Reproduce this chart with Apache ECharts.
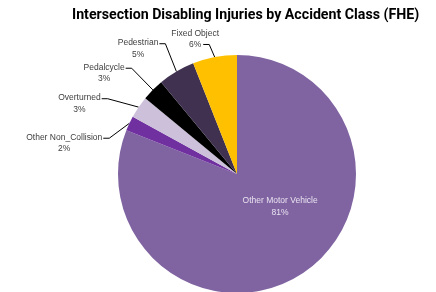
<!DOCTYPE html>
<html>
<head>
<meta charset="utf-8">
<script src="https://cdn.jsdelivr.net/npm/echarts@6/dist/echarts.min.js"></script>
<style>
  html, body { margin: 0; padding: 0; background: #fff; }
  #main { width: 436px; height: 292px; }
</style>
</head>
<body>
<div id="main"></div>
<script>
// accident classes, clockwise from 12 o'clock
var categories = ["Other Motor Vehicle", "Other Non_Collision", "Overturned", "Pedalcycle", "Pedestrian", "Fixed Object"]
var shares = [81, 2, 3, 3, 5, 6] // %
var colors = ["#8064A2", "#7030A0", "#CCC0DA", "#000000", "#403151", "#FFC000"]
// small label nudges so the outside labels sit where the excel chart put them
var labelDx = [0, -2, -13, -4, 6, 18]
var labelDy = [0, 10, -7, -15, -17, -4]
// which text line the leader line hooks onto (0 = name, 1 = percent)
var hookLine = [0, 0, 0, 0, 0, 1]

var chart = echarts.init(document.getElementById("main"))

var txt = {
  fontFamily: "Liberation Sans",
  fontSize: 8.5,
  lineHeight: 11.5,
  color: "#404040",
  align: "center"
}

var pieData = categories.map(function (name, i) {
  var item = { name: name, value: shares[i], itemStyle: { color: colors[i] } }
  if (i === 0) {
    // big slice gets its label inside
    item.label = {
      position: "inside",
      offset: [8, -19],
      rich: { n: Object.assign({}, txt, { color: "#E8E2F0" }) }
    }
    item.labelLine = { show: false }
  }
  return item
})

var option = {
  backgroundColor: "#fff",
  animation: false,
  title: {
    text: "Intersection Disabling Injuries by Accident Class (FHE)",
    left: 67,
    top: 3,
    textStyle: {
      fontFamily: "Roboto",
      fontWeight: "bold",
      fontSize: 14.2,
      color: "#000"
    }
  },
  series: [
    {
      type: "pie",
      center: [237, 174],
      radius: 119,
      startAngle: 90,
      clockwise: true,
      data: pieData,
      label: {
        show: true,
        position: "outside",
        formatter: "{n|{b}}\n{n|{d}%}",
        rich: { n: txt }
      },
      labelLine: {
        show: true,
        length: 14,
        length2: 6,
        lineStyle: { color: "#000", width: 1 }
      },
      labelLayout: function (params) {
        var i = params.dataIndex
        if (i === 0 || !params.labelLinePoints) return {}
        var r = params.labelRect
        var x0 = r.x + labelDx[i]
        var y0 = r.y + labelDy[i]
        var endX, endY
        if (hookLine[i] === 0) {
          endX = x0 + r.width + 1
          endY = y0 + r.height / 4
        } else {
          endX = x0 + r.width / 2 + 8
          endY = y0 + r.height * 3 / 4
        }
        var start = params.labelLinePoints[0]
        return {
          dx: labelDx[i],
          dy: labelDy[i],
          labelLinePoints: [
            [start[0], start[1]],
            [endX + 6, endY],
            [endX, endY]
          ]
        }
      },
      itemStyle: { borderWidth: 0 },
      emphasis: { disabled: true }
    }
  ]
}

chart.setOption(option)
</script>
</body>
</html>
